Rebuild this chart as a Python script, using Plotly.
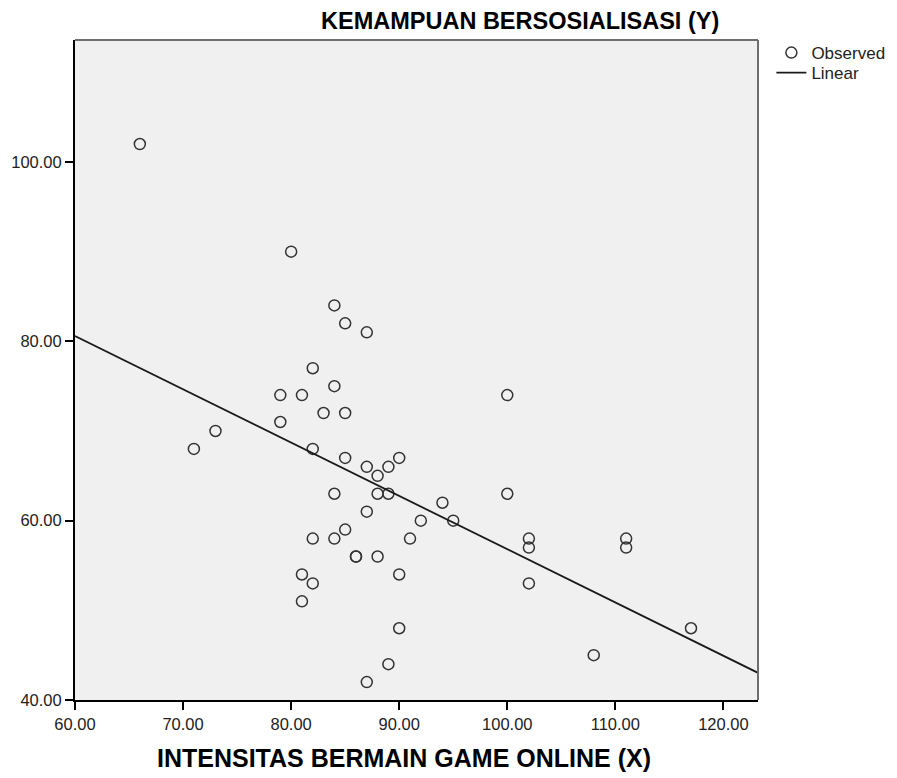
import numpy as np
import plotly.graph_objects as go

x_vals = [66, 80, 84, 85, 87, 82, 79, 81, 84, 83, 85, 79, 73, 71, 82, 85, 87, 88, 89, 90,
          84, 88, 89, 94, 95, 92, 100, 100, 85, 87, 91, 82, 84, 86, 86, 88, 102, 102, 102,
          111, 111, 81, 82, 81, 90, 90, 89, 87, 108, 117]
y_vals = [102, 90, 84, 82, 81, 77, 74, 74, 75, 72, 72, 71, 70, 68, 68, 67, 66, 65, 66, 67,
          63, 63, 63, 62, 60, 60, 74, 63, 59, 61, 58, 58, 58, 56, 56, 56, 58, 57, 53,
          58, 57, 54, 53, 51, 54, 48, 44, 42, 45, 48]

x_ticks = [60, 70, 80, 90, 100, 110, 120]
y_ticks = [40, 60, 80, 100]
x_range = [60, 123.2]
y_range = [40, 113.6]

slope, intercept = np.polyfit(x_vals, y_vals, 1)
line_x = np.array(x_range)
line_y = intercept + slope * line_x

FONT = "Liberation Sans, Arial, sans-serif"

fig = go.Figure()
fig.add_trace(go.Scatter(
    x=x_vals, y=y_vals, mode="markers", name="Observed", legend="legend",
    marker=dict(symbol="circle-open", size=11, color="#333333", line=dict(width=1.5)),
))
fig.add_trace(go.Scatter(
    x=line_x, y=line_y, mode="lines", name="Linear", legend="legend2",
    line=dict(color="#1a1a1a", width=1.8),
))

axis_common = dict(showgrid=False, zeroline=False, showline=True, linecolor="black", linewidth=2,
                   mirror=False, ticks="outside", ticklen=8, tickcolor="black", tickwidth=1.5,
                   automargin=False, tickfont=dict(size=16.5, color="#222222"))

legend_common = dict(xanchor="left", yanchor="middle", bgcolor="rgba(0,0,0,0)",
                     font=dict(size=17, color="#222222"), itemwidth=30)

fig.update_layout(
    width=897, height=778,
    margin=dict(l=67, r=147, t=32, b=86),
    paper_bgcolor="white", plot_bgcolor="#f0f0f0",
    font=dict(family=FONT, size=16, color="#222222"),
    showlegend=True,
    legend=dict(x=1.0196, y=0.9803, **legend_common),
    legend2=dict(x=1.0196, y=0.950, **legend_common),
    xaxis=dict(range=x_range, tickvals=x_ticks, ticktext=[f"{v:.2f}" for v in x_ticks], **axis_common),
    yaxis=dict(range=y_range, tickvals=y_ticks, ticktext=[f"{v:.2f}" for v in y_ticks], **axis_common),
    annotations=[
        dict(text="<b>KEMAMPUAN BERSOSIALISASI (Y)</b>", xref="paper", yref="paper",
             x=0.652, y=1.0, yshift=19, xanchor="center", yanchor="middle", showarrow=False,
             font=dict(size=23.5, color="black")),
        dict(text="<b>INTENSITAS BERMAIN GAME ONLINE (X)</b>", xref="paper", yref="paper",
             x=0.481, y=0, yshift=-58, xanchor="center", yanchor="middle", showarrow=False,
             font=dict(size=25, color="black")),
    ],
    shapes=[
        dict(type="line", xref="paper", yref="paper", x0=0, x1=1, y0=1, y1=1,
             line=dict(color="#6e6e6e", width=2)),
        dict(type="line", xref="paper", yref="paper", x0=1, x1=1, y0=0, y1=1,
             line=dict(color="#6e6e6e", width=2)),
    ],
)

fig.write_html("out.html")
